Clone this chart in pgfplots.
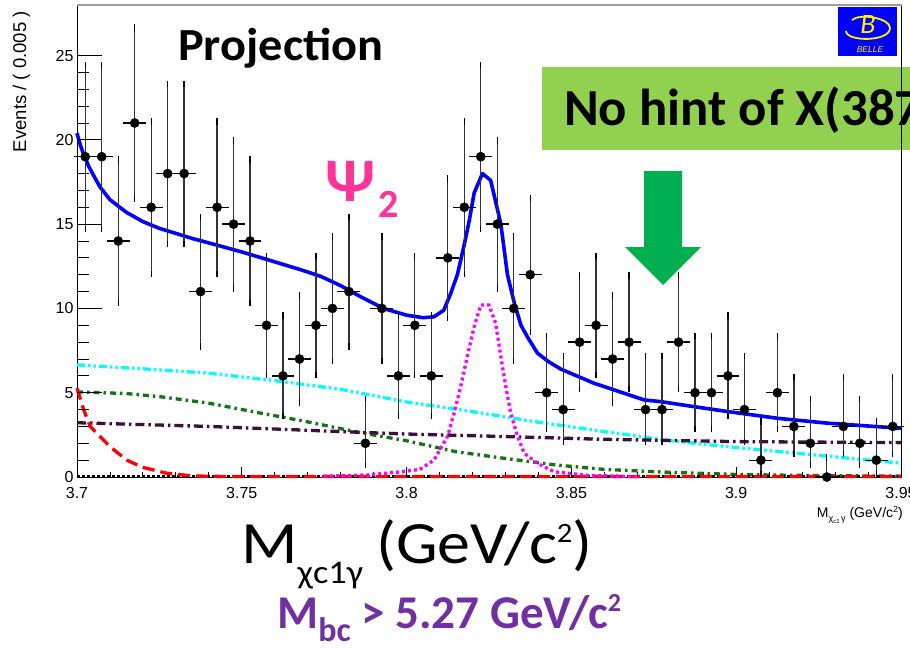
\documentclass[border=0pt]{standalone}
\usepackage{pgfplots}
\pgfplotsset{compat=1.18}
\usepackage{pgfplotstable}
\usepackage{fontspec}
\setmainfont{Carlito}
\newfontfamily\arial{Liberation Sans}

\definecolor{fitblue}{RGB}{0,0,255}
\definecolor{bkgcyan}{RGB}{0,255,255}
\definecolor{bkggreen}{RGB}{20,115,20}
\definecolor{bkgpurple}{RGB}{60,15,60}
\definecolor{sigmagenta}{RGB}{255,0,255}
\definecolor{psipink}{RGB}{255,51,153}
\definecolor{boxgreen}{RGB}{146,208,80}
\definecolor{arrowgreen}{RGB}{0,176,80}
\definecolor{mbcpurple}{RGB}{112,48,160}
\definecolor{bellebl}{RGB}{0,0,250}

% binned data, 0.005 GeV/c^2 per bin, with Poisson (68%) error bars
\pgfplotstableread{
x      y  em    ep
3.7025 19 4.302 5.435
3.7075 19 4.302 5.435
3.7125 14 3.692 4.830
3.7175 21 4.521 5.655
3.7225 16 3.949 5.083
3.7275 18 4.188 5.320
3.7325 18 4.188 5.320
3.7375 11 3.265 4.416
3.7425 16 3.949 5.083
3.7475 15 3.823 4.958
3.7525 14 3.692 4.830
3.7575 9  2.943 4.110
3.7625 6  2.379 3.583
3.7675 7  2.580 3.770
3.7725 9  2.943 4.110
3.7775 10 3.108 4.266
3.7825 11 3.265 4.416
3.7875 2  1.292 2.638
3.7925 10 3.108 4.266
3.7975 6  2.379 3.583
3.8025 9  2.943 4.110
3.8075 6  2.379 3.583
3.8125 13 3.556 4.697
3.8175 16 3.949 5.083
3.8225 19 4.302 5.435
3.8275 15 3.823 4.958
3.8325 10 3.108 4.266
3.8375 12 3.414 4.559
3.8425 5  2.159 3.382
3.8475 4  1.914 3.162
3.8525 8  2.768 3.945
3.8575 9  2.943 4.110
3.8625 7  2.580 3.770
3.8675 8  2.768 3.945
3.8725 4  1.914 3.162
3.8775 4  1.914 3.162
3.8825 8  2.768 3.945
3.8875 5  2.159 3.382
3.8925 5  2.159 3.382
3.8975 6  2.379 3.583
3.9025 4  1.914 3.162
3.9075 1  0.827 2.299
3.9125 5  2.159 3.382
3.9175 3  1.633 2.918
3.9225 2  1.292 2.638
3.9275 0  0.000 1.148
3.9325 3  1.633 2.918
3.9375 2  1.292 2.638
3.9425 1  0.827 2.299
3.9475 3  1.633 2.918
}\datatable

\begin{document}
\begin{tikzpicture}
\path[use as bounding box] (0,0) rectangle (910pt,-648pt);
\fill[white] (0,0) rectangle (910pt,-648pt);

\begin{axis}[
  at={(77pt,-477pt)}, anchor=south west,
  scale only axis, width=824pt, height=472pt,
  xmin=3.7, xmax=3.95, ymin=0, ymax=28,
  clip=false,
  xtick={3.7,3.75,3.8,3.85,3.9,3.95},
  ytick=\empty,
  minor x tick num=4,
  tick align=inside, xtick pos=bottom,
  major tick length=10pt, minor tick length=5pt,
  tick style={black, line width=0.9pt},
  axis line style={black, line width=1pt},
  /pgf/number format/assume math mode=true,
  xticklabel style={font=\arial\fontsize{16}{16}\selectfont, yshift=-7pt},
]
% background and signal components
\addplot[bkgcyan, line width=3.3pt, dash pattern=on 8pt off 3pt on 2.5pt off 3pt on 2.5pt off 3pt] table {
3.700 6.65
3.720 6.42
3.740 6.16
3.760 5.72
3.780 5.20
3.800 4.45
3.820 3.88
3.840 3.25
3.860 2.70
3.880 2.15
3.900 1.75
3.920 1.38
3.950 0.82
};
\addplot[bkggreen, line width=3.3pt, dash pattern=on 6pt off 4pt on 2.5pt off 4pt] table {
3.700 5.05
3.715 4.95
3.725 4.77
3.740 4.38
3.756 3.78
3.768 3.35
3.786 2.63
3.800 2.15
3.815 1.50
3.830 1.10
3.845 0.72
3.860 0.45
3.877 0.30
3.900 0.15
3.925 0.08
3.950 0.05
};
\addplot[bkgpurple, line width=3.3pt, dash pattern=on 9pt off 4pt on 2.5pt off 4pt] table {
3.700 3.22
3.740 3.00
3.786 2.65
3.800 2.55
3.830 2.40
3.859 2.24
3.900 2.10
3.950 2.04
};
\addplot[black, line width=3.5pt, dash pattern=on 3pt off 2pt] table {
3.700 0.03
3.950 0.03
};
\addplot[red, line width=3.3pt, dash pattern=on 12pt off 6pt] table {
3.7000 5.27
3.7020 4.00
3.7040 3.00
3.7100 1.80
3.7151 1.00
3.7200 0.57
3.7273 0.22
3.7353 0.06
3.7450 0.03
3.9500 0.03
};
\addplot[sigmagenta, line width=3.3pt, dash pattern=on 3pt off 3pt] table {
3.7750 0.05
3.7880 0.12
3.7980 0.30
3.8040 0.45
3.8083 1.00
3.8124 2.39
3.8144 3.78
3.8164 5.36
3.8184 7.14
3.8205 8.92
3.8225 10.2
3.8250 10.2
3.8270 9.13
3.8286 7.14
3.8301 5.36
3.8316 3.78
3.8337 2.39
3.8357 1.41
3.8397 0.81
3.8448 0.31
3.8550 0.10
3.8700 0.02
};
% total fit
\addplot[fitblue, line width=3.6pt, line join=round] table {
3.7000 20.4
3.7010 19.7
3.7020 19.15
3.7035 18.45
3.7050 17.9
3.7070 17.2
3.7100 16.45
3.7150 15.7
3.7200 15.15
3.7250 14.75
3.7300 14.45
3.7350 14.15
3.7435 13.7
3.7500 13.35
3.7577 12.9
3.7678 12.3
3.7740 11.9
3.7800 11.35
3.7860 10.7
3.7930 10.0
3.8000 9.6
3.8050 9.45
3.8083 9.5
3.8113 9.9
3.8134 10.9
3.8154 12.0
3.8174 13.7
3.8190 15.2
3.8205 16.85
3.8230 18.0
3.8255 17.6
3.8286 15.0
3.8306 12.0
3.8327 10.3
3.8347 9.0
3.8367 8.3
3.8397 7.35
3.8430 6.85
3.8468 6.4
3.8569 5.56
3.8721 4.57
3.8772 4.47
3.8873 4.17
3.8975 3.88
3.9127 3.48
3.9279 3.19
3.9500 2.89
};
% data points
\addplot[only marks, mark=*, mark size=4.6pt, black,
  error bars/.cd,
    x dir=both, x fixed=0.0025,
    y dir=both, y explicit,
    error bar style={black!80, line width=1.3pt},
    error mark options={black, mark size=3.2pt, line width=1.3pt},
] table[x=x, y=y, y error plus=ep, y error minus=em] {\datatable};
\end{axis}

% y-axis ticks and labels
\begin{axis}[
  at={(77pt,-477pt)}, anchor=south west,
  scale only axis, width=824pt, height=472pt,
  xmin=3.7, xmax=3.95, ymin=0, ymax=28,
  xtick=\empty, ytick={0,5,10,15,20,25},
  minor y tick num=4,
  tick align=inside, ytick pos=left,
  major tick length=25pt, minor tick length=12.5pt,
  tick style={black, line width=0.9pt},
  axis line style={draw=none},
  /pgf/number format/assume math mode=true,
  yticklabel style={font=\arial\fontsize{16}{16}\selectfont},
]
\end{axis}

% top frame line
\draw[gray!75, line width=1.5pt] (77pt,-5pt) -- (902pt,-5pt);

% axis titles
\node[rotate=90, anchor=base east, inner sep=0, font=\arial\fontsize{18.5}{18.5}\selectfont] at (26pt,-11pt) {Events / ( 0.005 )};
\node[anchor=base east, inner sep=0, font=\arial\fontsize{14}{14}\selectfont] at (903pt,-517pt)
  {M\raisebox{-4pt}{\fontsize{9}{9}\selectfont χ\raisebox{-2.5pt}{\fontsize{6}{6}\selectfont c1}\,γ} (GeV/c\raisebox{5pt}{\fontsize{9}{9}\selectfont 2})};

% annotations
\node[anchor=base west, inner sep=0, font=\bfseries\fontsize{46}{46}\selectfont] at (178pt,-60pt) {\scalebox{1.05}[1]{Projection}};
\node[anchor=base west, inner sep=0, text=psipink, font=\bfseries\fontsize{62}{62}\selectfont] at (325pt,-201pt)
  {Ψ\hspace{3pt}\raisebox{-16pt}{\fontsize{40}{40}\selectfont 2}};

\fill[boxgreen] (542pt,-67pt) rectangle (915pt,-150pt);
\node[anchor=base west, inner sep=0, font=\bfseries\fontsize{52}{52}\selectfont] at (564pt,-125pt) {\scalebox{1.015}[1]{No hint of X(3872)}};
\draw[black, line width=1pt] (901pt,-57pt) -- (901pt,-477pt);

\fill[arrowgreen] (644pt,-171pt) -- (682pt,-171pt) -- (682pt,-247pt) -- (701pt,-247pt)
  -- (663pt,-285pt) -- (625pt,-247pt) -- (644pt,-247pt) -- cycle;

% experiment logo
\fill[bellebl] (838pt,-7pt) rectangle (897pt,-56pt);
\draw[yellow, line width=1.8pt] (846pt,-31pt) .. controls (846pt,-42pt) and (890pt,-42pt) .. (890pt,-28pt)
  .. controls (890pt,-18pt) and (860pt,-13pt) .. (852pt,-20pt);
\node[yellow, inner sep=0, font=\itshape\fontsize{28}{28}\selectfont] at (868pt,-25pt) {B};
\node[yellow, inner sep=0, font=\arial\itshape\fontsize{8.5}{8.5}\selectfont] at (870pt,-50pt) {BELLE};

% bottom titles
\node[anchor=base west, inner sep=0, font=\fontsize{60}{60}\selectfont] at (241pt,-563pt)
  {\scalebox{1.1}[1]{M\raisebox{-20pt}{\fontsize{33}{33}\selectfont χc1γ}\hspace{0.2em}(GeV/c\raisebox{21pt}{\fontsize{28}{28}\selectfont 2})}};
\node[anchor=base west, inner sep=0, text=mbcpurple, font=\bfseries\fontsize{47}{47}\selectfont] at (277pt,-628pt)
  {M\raisebox{-13pt}{\fontsize{34}{34}\selectfont bc} > 5.27 GeV/c\raisebox{17pt}{\fontsize{26}{26}\selectfont 2}};
\end{tikzpicture}
\end{document}
